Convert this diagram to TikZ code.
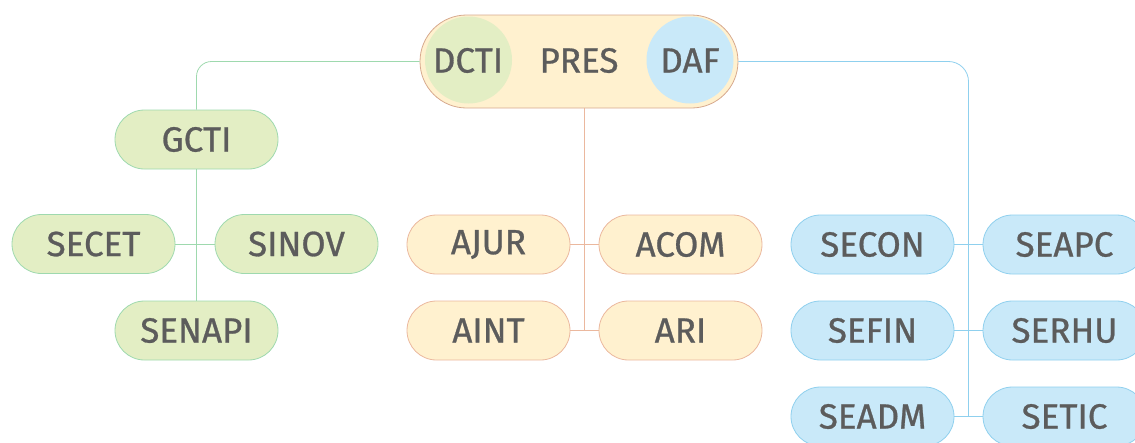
\documentclass[tikz,border=0pt]{standalone}
\usepackage{fontspec}
\setmainfont{Fira Sans}[FakeBold=0.8]
\usetikzlibrary{calc}
\definecolor{txt}{HTML}{5C5C5C}
\definecolor{gfill}{HTML}{E3EEC4}
\definecolor{gdraw}{HTML}{9ED9AE}
\definecolor{yfill}{HTML}{FFF1CF}
\definecolor{ydraw}{HTML}{EBB89E}
\definecolor{bfill}{HTML}{C9E9F9}
\definecolor{bdraw}{HTML}{8FD0EE}
\definecolor{pdraw}{HTML}{D7A98E}
\begin{document}
\begin{tikzpicture}[x=1pt,y=-1pt,
  unit/.style={rectangle, rounded corners=29.5pt, minimum width=163pt, minimum height=59pt,
    inner sep=0pt, line width=0.8pt, text=txt, font=\fontsize{35}{35}\selectfont},
  gunit/.style={unit, fill=gfill, draw=gdraw},
  yunit/.style={unit, fill=yfill, draw=ydraw},
  bunit/.style={unit, fill=bfill, draw=bdraw},
  gline/.style={draw=gdraw, line width=0.8pt},
  yline/.style={draw=ydraw, line width=0.8pt},
  bline/.style={draw=bdraw, line width=0.8pt},
  topfont/.style={text=txt, font=\fontsize{35}{35}\selectfont, inner sep=0pt}]
\clip (0,0) rectangle (1135,442);
\useasboundingbox (0,0) rectangle (1135,442);
% top pill
\node[rectangle, rounded corners=46.5pt, minimum width=318pt, minimum height=93pt,
  fill=yfill, draw=pdraw, line width=0.8pt, inner sep=0pt] (pres) at (579,61.5) {};
\node[circle, fill=gfill, minimum size=87pt, inner sep=0pt] (dctic) at (468.5,60) {};
\node[circle, fill=bfill, minimum size=87pt, inner sep=0pt] (dafc) at (690,60) {};
\node[topfont] (dcti) at (468,60.5) {DCTI};
\node[topfont] (prest) at (579,60.5) {PRES};
\node[topfont] (daf) at (690,60.5) {DAF};
% left
\node[gunit] (gcti) at (196.5,139.5) {GCTI};
\node[gunit] (secet) at (93.5,244) {SECET};
\node[gunit] (sinov) at (296.5,244) {SINOV};
\node[gunit] (senapi) at (196.5,330.5) {SENAPI};
% middle
\node[yunit] (ajur) at (488.5,244.5) {AJUR};
\node[yunit] (acom) at (680.5,244.5) {ACOM};
\node[yunit] (aint) at (488.5,330.5) {AINT};
\node[yunit] (ari) at (680.5,330.5) {ARI};
% right
\node[bunit] (secon) at (872.5,244.5) {SECON};
\node[bunit] (seapc) at (1064.5,244.5) {SEAPC};
\node[bunit] (sefin) at (872.5,330.5) {SEFIN};
\node[bunit] (serhu) at (1064.5,330.5) {SERHU};
\node[bunit] (seadm) at (872.5,416.5) {SEADM};
\node[bunit] (setic) at (1064.5,416.5) {SETIC};
% connectors
\coordinate (ymid) at ($(ajur.east)!0.5!(acom.west)$);
\coordinate (bmid) at ($(secon.east)!0.5!(seapc.west)$);
\path[gline, rounded corners=15pt] (pres.west) -| (gcti.north);
\path[gline] (gcti.south) -- (senapi.north);
\path[gline] (secet.east) -- (sinov.west);
\path[yline] (pres.south -| ymid) -- (ymid |- ari.west);
\path[yline] (ajur.east) -- (acom.west);
\path[yline] (aint.east) -- (ari.west);
\path[bline, rounded corners=20pt] (pres.east) -| (bmid |- setic.west);
\path[bline] (secon.east) -- (seapc.west);
\path[bline] (sefin.east) -- (serhu.west);
\path[bline] (seadm.east) -- (setic.west);
\end{tikzpicture}
\end{document}
